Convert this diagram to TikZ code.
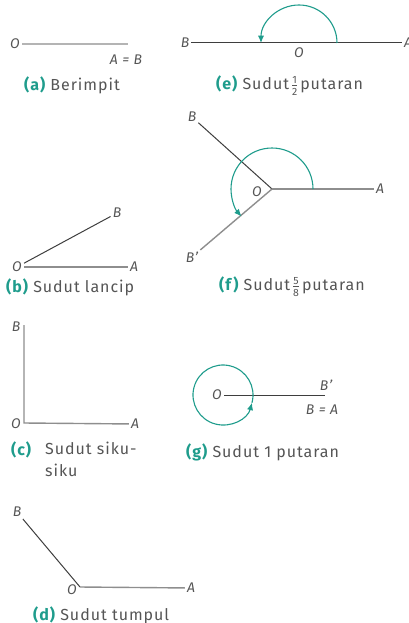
\documentclass[tikz,border=0pt]{standalone}
\usepackage{fontspec}
\usepackage{amsmath}
\setmainfont{Fira Sans}[LetterSpace=6]
\usetikzlibrary{arrows.meta, positioning}
\definecolor{lineink}{HTML}{3E3E3E}
\definecolor{linegray}{HTML}{8E8E8E}
\definecolor{linelight}{HTML}{B4B4B4}
\definecolor{textgray}{HTML}{555555}
\definecolor{turnteal}{HTML}{1F9C8C}
\newcommand{\capid}[1]{\textbf{\color{turnteal}(#1)}}
\newcommand{\fracsf}[2]{\hspace{3pt}{\nulldelimiterspace=0pt$\genfrac{}{}{0.5pt}{1}{\text{\fontsize{10.5}{10.5}\selectfont #1}}{\text{\fontsize{10.5}{10.5}\selectfont #2}}$}\hspace{3pt}}
\tikzset{
  lbl/.style={font=\fontsize{14}{15}\selectfont\itshape, text=textgray, inner sep=2pt},
  capline/.style={font=\fontsize{16}{22}\selectfont, text=textgray, anchor=west, inner sep=0pt},
  ray/.style={draw=linegray, line width=1.4pt},
  rayl/.style={draw=linelight, line width=2pt},
  rayd/.style={draw=lineink, line width=1pt},
  turn/.style={draw=turnteal, line width=1.1pt, -{Latex[length=2.6mm, width=2.2mm]}}
}
\begin{document}
\begin{tikzpicture}[x=1pt, y=1pt]
\useasboundingbox (0,0) rectangle (408,-623);
% (a) berimpit
\node[lbl] (aO) at (15,-44) {O};
\coordinate (aA) at (128,-44);
\node[lbl] (aAB) at (126,-60) {A = B};
\draw[rayl] (aO) -- (aA);
\node[capline] (acap) at (24,-85) {\capid{a} Berimpit};
% (e) setengah putaran
\node[lbl] (eB) at (185,-43) {B};
\coordinate (eO) at (299,-43);
\node[lbl] (eA) at (408,-43) {A};
\node[lbl, below=2pt of eO] (eOl) {O};
\draw[rayd] (eB) -- (eA);
\draw[turn] ([shift={(0:38)}]eO) arc[start angle=0, end angle=180, radius=38];
\node[capline] (ecap) at (216,-86) {\capid{e} Sudut\fracsf{1}{2}putaran};
% (f) lima per delapan putaran
\coordinate (fO) at (272,-189);
\node[lbl] (fOl) at (257,-192) {O};
\node[lbl] (fA) at (380,-189) {A};
\node[lbl] (fB) at (192,-117) {B};
\node[lbl] (fBp) at (192,-257) {B'};
\draw[rayd] (fB) -- (fO);
\draw[ray] (fO) -- (fA);
\draw[ray] (fBp) -- (fO);
\draw[turn] ([shift={(0:41)}]fO) arc[start angle=0, end angle=222, radius=41];
\node[capline] (fcap) at (219,-287) {\capid{f} Sudut\fracsf{5}{8}putaran};
% (b) lancip
\node[lbl] (bO) at (17,-267) {O};
\node[lbl] (bA) at (134,-267) {A};
\node[lbl] (bB) at (117,-213) {B};
\draw[ray] (bO) -- (bA);
\draw[rayd] (bO) -- (bB);
\node[capline] (bcap) at (6,-287) {\capid{b} Sudut lancip};
% (c) siku-siku
\coordinate (cO) at (24,-423);
\coordinate (cBt) at (24,-325);
\node[lbl] (cB) at (16,-327) {B};
\node[lbl] (cOl) at (16,-424) {O};
\node[lbl] (cA) at (135,-424) {A};
\draw[ray] (cBt) -- (cO) -- (cA);
\node[capline] (ccap) at (11,-450) {\capid{c}};
\node[capline, anchor=north west, align=left] (ctxt) at (45,-442) {Sudut siku-\\siku};
% (d) tumpul
\coordinate (dO) at (80,-587);
\node[lbl] (dB) at (17,-512) {B};
\node[lbl] (dOl) at (72,-590) {O};
\node[lbl] (dA) at (191,-588) {A};
\draw[rayd] (dB) -- (dO);
\draw[ray] (dO) -- (dA);
\node[capline] (dcap) at (33,-615) {\capid{d} Sudut tumpul};
% (g) satu putaran
\coordinate (gC) at (223,-395);
\coordinate (gA) at (325,-395);
\node[lbl] (gO) at (217,-395) {O};
\node[lbl] (gBp) at (326,-385) {B'};
\node[lbl] (gBA) at (322,-410) {B = A};
\draw[rayd] (gO) -- (gA);
\draw[turn] ([shift={(-15:30)}]gC) arc[start angle=-15, end angle=345, radius=30];
\node[capline] (gcap) at (186,-452) {\capid{g} Sudut 1 putaran};
\end{tikzpicture}
\end{document}
